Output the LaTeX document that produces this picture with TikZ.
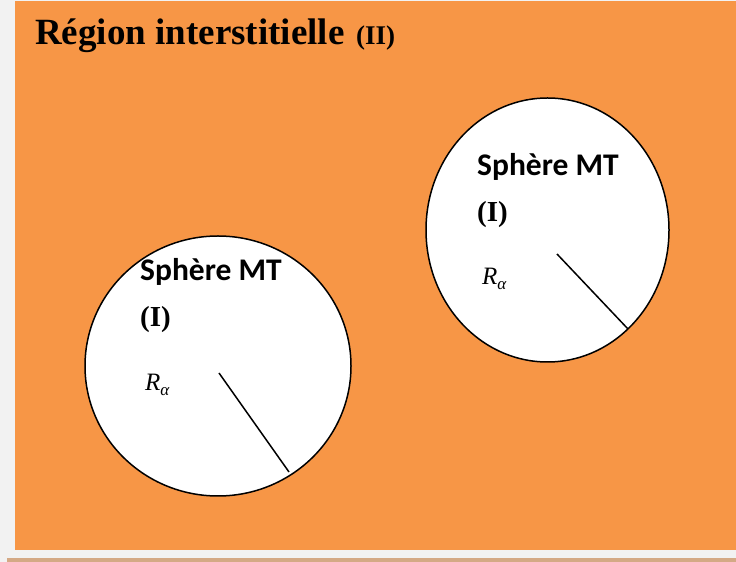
\documentclass[tikz,border=0pt]{standalone}
\usepackage{fontspec}
\setmainfont{Liberation Serif}
\newfontfamily\calibri{Carlito}
\usetikzlibrary{shapes.geometric}
\definecolor{bggray}{HTML}{F2F2F2}
\definecolor{orangebg}{HTML}{F79646}
\definecolor{tanline}{HTML}{D4A985}
\tikzset{
  sphere/.style={draw=black, line width=1.5pt, fill=white, ellipse, inner sep=0pt},
  radius/.style={draw=black, line width=1.5pt},
  lbl/.style={anchor=base west, inner sep=0pt},
  sphtxt/.style={lbl, font=\calibri\bfseries\fontsize{31.5}{31.5}\selectfont},
  numtxt/.style={lbl, font=\bfseries\fontsize{29}{29}\selectfont},
  rtxt/.style={lbl, font=\itshape\fontsize{25}{25}\selectfont}
}
\begin{document}
\begin{tikzpicture}[x=1pt,y=1pt]
\useasboundingbox (0,0) rectangle (736,562);
\fill[bggray] (0,0) rectangle (736,562);
\fill[orangebg] (15,12) rectangle (736,561);
\fill[tanline] (7,0) rectangle (736,4);
% title
\node[lbl, font=\bfseries\fontsize{37}{37}\selectfont] (title) at (35,517) {Région interstitielle};
\node[lbl, font=\bfseries\fontsize{27}{27}\selectfont] (titleII) at (356,517) {(II)};
% left sphere
\node[sphere, minimum width=266pt, minimum height=260pt] (s1) at (218,196) {};
\coordinate (c1) at (219,189);
\coordinate (e1) at (289,90);
\draw[radius] (c1) -- (e1);
\node[sphtxt] (t1) at (140,281) {Sphère MT};
\node[numtxt] (n1) at (140,235) {(I)};
\node[rtxt] (r1) at (145,171) {R\raisebox{-5pt}{\fontsize{17}{17}\selectfont α}};
% right sphere
\node[sphere, minimum width=243pt, minimum height=264pt] (s2) at (547.5,332) {};
\coordinate (c2) at (557,308);
\coordinate (e2) at (628,233);
\draw[radius] (c2) -- (e2);
\node[sphtxt] (t2) at (477,386) {Sphère MT};
\node[numtxt] (n2) at (477,340) {(I)};
\node[rtxt] (r2) at (482,277) {R\raisebox{-5pt}{\fontsize{17}{17}\selectfont α}};
\end{tikzpicture}
\end{document}
